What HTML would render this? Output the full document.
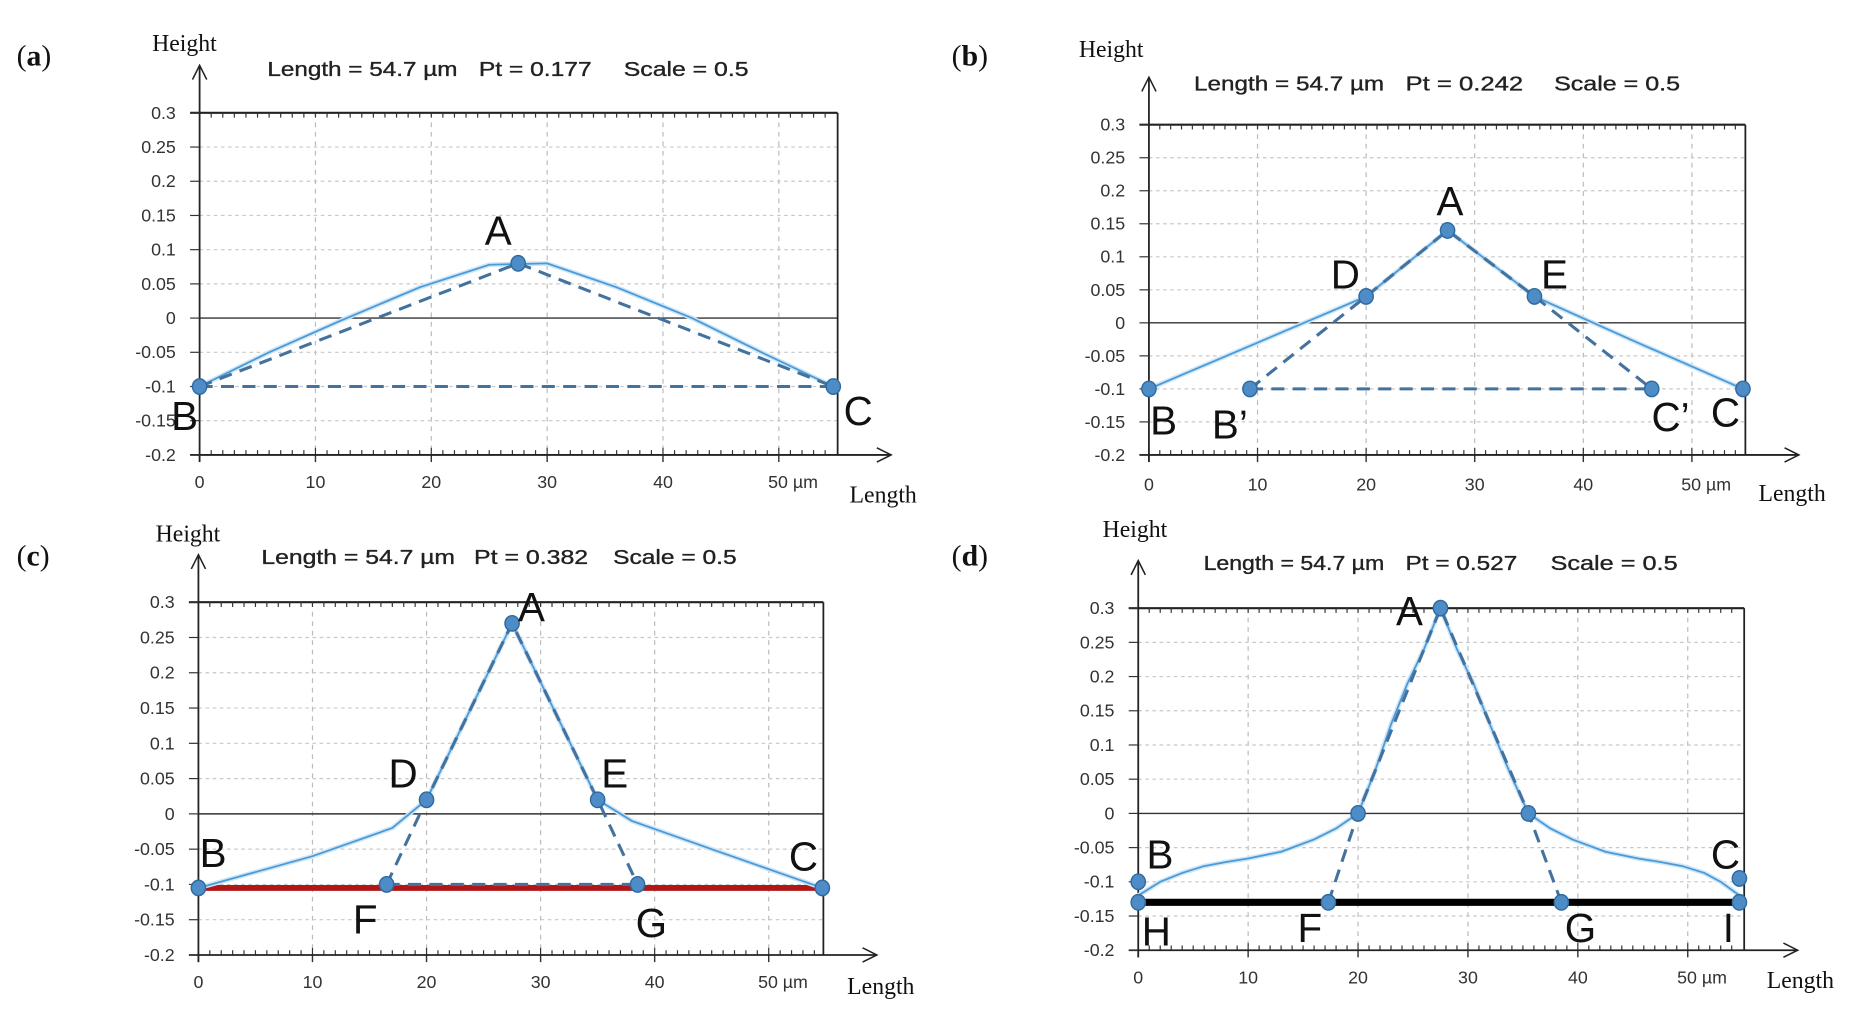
<!DOCTYPE html>
<html><head><meta charset="utf-8"><style>
html,body{margin:0;padding:0;background:#fff;}
svg{display:block}
.tk{font-family:"Liberation Sans",Arial,sans-serif;font-size:15px;fill:#333}
.ti{font-family:"Liberation Sans",Arial,sans-serif;font-size:17px;fill:#222;stroke:#222;stroke-width:0.3}
.sf{font-family:"Liberation Serif",serif;font-size:20px;fill:#111}
.pl{font-family:"Liberation Serif",serif;font-size:25px;fill:#111}
.lt{font-family:"Liberation Sans",Arial,sans-serif;font-size:34px;fill:#111}
</style></head><body>
<svg id="s" width="1863" height="1012" viewBox="0 0 1568 852" preserveAspectRatio="none" xmlns="http://www.w3.org/2000/svg">
<text class="pl" x="14" y="55">(<tspan font-weight="bold">a</tspan>)</text>
<text class="pl" x="801" y="55">(<tspan font-weight="bold">b</tspan>)</text>
<text class="pl" x="14" y="476">(<tspan font-weight="bold">c</tspan>)</text>
<text class="pl" x="801" y="476">(<tspan font-weight="bold">d</tspan>)</text>
<text class="sf" x="128" y="43">Height</text>
<text class="sf" x="908" y="48">Height</text>
<text class="sf" x="131" y="456">Height</text>
<text class="sf" x="928" y="452">Height</text>
<text class="sf" x="715" y="423">Length</text>
<text class="sf" x="1480" y="422">Length</text>
<text class="sf" x="713" y="837">Length</text>
<text class="sf" x="1487" y="832">Length</text>
<text class="ti" x="225" y="64" textLength="160" lengthAdjust="spacingAndGlyphs">Length = 54.7 µm</text><text class="ti" x="403" y="64" textLength="95" lengthAdjust="spacingAndGlyphs">Pt = 0.177</text><text class="ti" x="525" y="64" textLength="105" lengthAdjust="spacingAndGlyphs">Scale = 0.5</text>
<text class="ti" x="1005" y="76" textLength="160" lengthAdjust="spacingAndGlyphs">Length = 54.7 µm</text><text class="ti" x="1183" y="76" textLength="99" lengthAdjust="spacingAndGlyphs">Pt = 0.242</text><text class="ti" x="1308" y="76" textLength="106" lengthAdjust="spacingAndGlyphs">Scale = 0.5</text>
<text class="ti" x="220" y="475" textLength="163" lengthAdjust="spacingAndGlyphs">Length = 54.7 µm</text><text class="ti" x="399" y="475" textLength="96" lengthAdjust="spacingAndGlyphs">Pt = 0.382</text><text class="ti" x="516" y="475" textLength="104" lengthAdjust="spacingAndGlyphs">Scale = 0.5</text>
<text class="ti" x="1013" y="480" textLength="152" lengthAdjust="spacingAndGlyphs">Length = 54.7 µm</text><text class="ti" x="1183" y="480" textLength="94" lengthAdjust="spacingAndGlyphs">Pt = 0.527</text><text class="ti" x="1305" y="480" textLength="107" lengthAdjust="spacingAndGlyphs">Scale = 0.5</text>
<g id="g"></g>
<text class="lt" x="408" y="206">A</text><text class="lt" x="144" y="362">B</text><text class="lt" x="710" y="358">C</text>
<text class="lt" x="1209" y="181">A</text><text class="lt" x="1120" y="243">D</text><text class="lt" x="1297" y="243">E</text>
<text class="lt" x="968" y="366">B</text><text class="lt" x="1020" y="369">B’</text><text class="lt" x="1390" y="363">C’</text><text class="lt" x="1440" y="359">C</text>
<text class="lt" x="436" y="523">A</text><text class="lt" x="327" y="663">D</text><text class="lt" x="506" y="663">E</text>
<text class="lt" x="168" y="730">B</text><text class="lt" x="664" y="733">C</text><text class="lt" x="297" y="786">F</text><text class="lt" x="535" y="789">G</text>
<text class="lt" x="1175" y="526">A</text><text class="lt" x="965" y="731">B</text><text class="lt" x="1440" y="731">C</text>
<text class="lt" x="961" y="796">H</text><text class="lt" x="1092" y="793">F</text><text class="lt" x="1317" y="793">G</text><text class="lt" x="1450" y="793">I</text>
</svg>
<script>
var NS="http://www.w3.org/2000/svg",g=document.getElementById("g");
function el(t,a,txt){var e=document.createElementNS(NS,t);for(var k in a)e.setAttribute(k,a[k]);if(txt!=null)e.textContent=txt;g.appendChild(e);return e;}
var P=[
{x0:168,sx:9.75,yt:95,yb:383,xr:705,xl:411,
 solid:[[0,-0.1],[6,-0.05],[12,-0.005],[19,0.045],[25,0.078],[30,0.08],[36,0.045],[42.5,0],[48.5,-0.05],[54.7,-0.1]],
 dash:[[[0,-0.1],[27.5,0.08],[54.7,-0.1]],[[0,-0.1],[54.7,-0.1]]],
 mk:[[0,-0.1],[27.5,0.08],[54.7,-0.1]]},
{x0:967,sx:9.14,yt:105,yb:383,xr:1469,xl:413,
 solid:[[0,-0.1],[10,-0.03],[20,0.04],[27.5,0.14],[35.5,0.04],[45,-0.03],[54.7,-0.1]],
 dash:[[[9.3,-0.1],[20,0.04],[27.5,0.14],[35.5,0.04],[46.3,-0.1]],[[9.3,-0.1],[46.3,-0.1]]],
 mk:[[0,-0.1],[9.3,-0.1],[20,0.04],[27.5,0.14],[35.5,0.04],[46.3,-0.1],[54.7,-0.1]]},
{x0:167,sx:9.6,yt:507,yb:804,xr:693,xl:832,
 bar:[-0.105,"#b01818",5],
 solid:[[0,-0.105],[10,-0.06],[17,-0.02],[20,0.02],[27.5,0.27],[35,0.02],[38,-0.01],[45,-0.05],[54.7,-0.105]],
 dash:[[[16.5,-0.1],[20,0.02],[27.5,0.27],[35,0.02],[38.5,-0.1]],[[16.5,-0.1],[38.5,-0.1]]],
 mk:[[0,-0.105],[16.5,-0.1],[20,0.02],[27.5,0.27],[35,0.02],[38.5,-0.1],[54.7,-0.105]]},
{x0:958,sx:9.25,yt:512,yb:800,xr:1468,xl:828,
 bar:[-0.13,"#000",6],
 solid:[[0,-0.12],[2,-0.1],[4,-0.087],[6,-0.077],[8,-0.071],[10,-0.066],[13,-0.056],[16,-0.038],[18,-0.022],[20,0],[21.5,0.06],[23,0.13],[24.5,0.19],[26,0.24],[27.5,0.3],[29,0.24],[30.5,0.19],[32,0.13],[33.8,0.06],[35.5,0],[37.5,-0.022],[39.5,-0.038],[42.5,-0.056],[45.5,-0.066],[47.5,-0.071],[49.5,-0.077],[51.5,-0.087],[53,-0.1],[54.7,-0.12]],
 dash:[[[17.3,-0.13],[20,0],[27.5,0.3],[35.5,0],[38.5,-0.13]]],
 mk:[[0,-0.1],[0,-0.13],[17.3,-0.13],[20,0],[27.5,0.3],[35.5,0],[38.5,-0.13],[54.7,-0.095],[54.7,-0.13]]}
];
var YL=["0.3","0.25","0.2","0.15","0.1","0.05","0","-0.05","-0.1","-0.15","-0.2"],XL=["0","10","20","30","40","50 µm"];
P.forEach(function(p){
 var X=function(u){return p.x0+u*p.sx},Y=function(v){return p.yt+(0.3-v)/0.5*(p.yb-p.yt)};
 for(var i=1;i<=5;i++)el("line",{x1:X(i*10),x2:X(i*10),y1:p.yt,y2:p.yb,stroke:"#bbb","stroke-dasharray":"4 4","stroke-width":1});
 for(var j=1;j<10;j++){var v=0.3-j*0.05;if(j==6)continue;el("line",{x1:p.x0,x2:p.xr,y1:Y(v),y2:Y(v),stroke:"#c8c8c8","stroke-dasharray":"3 3","stroke-width":1});}
 el("line",{x1:p.x0,x2:p.xr,y1:Y(0),y2:Y(0),stroke:"#333","stroke-width":1.2});
 el("line",{x1:p.x0-8,x2:p.xr,y1:p.yt,y2:p.yt,stroke:"#222","stroke-width":1.8});
 el("line",{x1:p.xr,x2:p.xr,y1:p.yt,y2:p.yb,stroke:"#222","stroke-width":1.5});
 for(var u=0;u<=54;u++){el("line",{x1:X(u),x2:X(u),y1:p.yt,y2:p.yt+4,stroke:"#333","stroke-width":1});el("line",{x1:X(u),x2:X(u),y1:p.yb,y2:p.yb-(u%10==0?6:4),stroke:"#333","stroke-width":1});}
 for(var k=0;k<=5;k++)el("line",{x1:X(k*10),x2:X(k*10),y1:p.yb,y2:p.yb+6,stroke:"#333","stroke-width":1.2});
 el("line",{x1:p.x0,x2:p.x0,y1:p.yb+6,y2:p.yt-40,stroke:"#222","stroke-width":1.5});
 el("polyline",{points:(p.x0-6)+","+(p.yt-28)+" "+p.x0+","+(p.yt-40)+" "+(p.x0+6)+","+(p.yt-28),fill:"none",stroke:"#222","stroke-width":1.3});
 el("line",{x1:p.x0-8,x2:p.xr+45,y1:p.yb,y2:p.yb,stroke:"#222","stroke-width":1.5});
 el("polyline",{points:(p.xr+33)+","+(p.yb-6)+" "+(p.xr+45)+","+p.yb+" "+(p.xr+33)+","+(p.yb+6),fill:"none",stroke:"#222","stroke-width":1.3});
 YL.forEach(function(s,i){var y=p.yt+i*(p.yb-p.yt)/10;el("line",{x1:p.x0-8,x2:p.x0,y1:y,y2:y,stroke:"#333"});el("text",{"class":"tk",x:p.x0-20,y:y+5,"text-anchor":"end"},s);});
 XL.forEach(function(s,i){el("text",{"class":"tk",x:X(i*10)+(i==5?12:0),y:p.xl,"text-anchor":"middle"},s);});
 if(p.bar)el("line",{x1:X(0),x2:X(54.7),y1:Y(p.bar[0]),y2:Y(p.bar[0]),stroke:p.bar[1],"stroke-width":p.bar[2]});
 var pts=function(a){return a.map(function(q){return X(q[0])+","+Y(q[1])}).join(" ")};
 el("polyline",{points:pts(p.solid),fill:"none",stroke:"#cfe6f7","stroke-width":4});
 el("polyline",{points:pts(p.solid),fill:"none",stroke:"#4a9ad8","stroke-width":1.5});
 p.dash.forEach(function(d){el("polyline",{points:pts(d),fill:"none",stroke:"#44729e","stroke-width":2.6,"stroke-dasharray":"11 7"});});
 p.mk.forEach(function(q){el("ellipse",{cx:X(q[0]),cy:Y(q[1]),rx:6,ry:6.5,fill:"#4d8cc6",stroke:"#2f6a9f","stroke-width":1.2});});
});
</script>
</body></html>
